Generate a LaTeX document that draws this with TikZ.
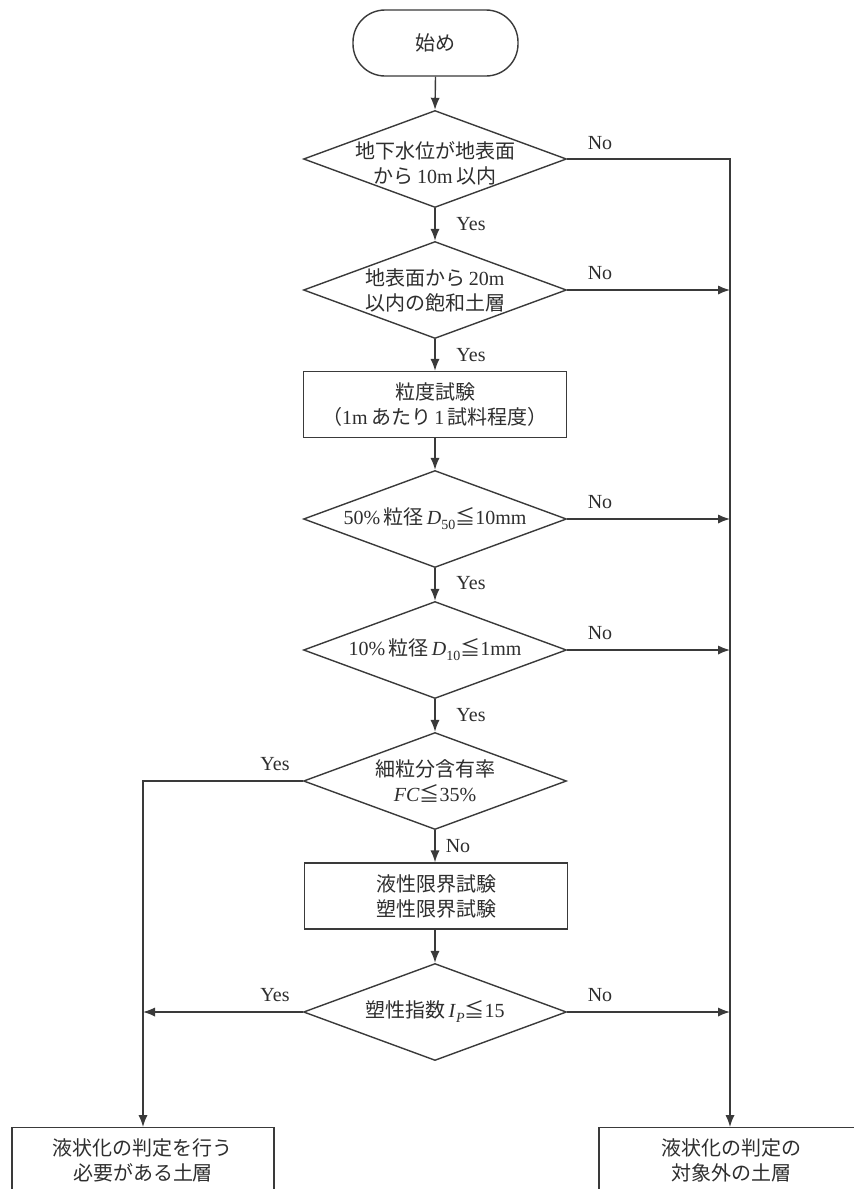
\documentclass[tikz,border=0pt]{standalone}
\usepackage{fontspec}
\setmainfont{Liberation Serif}
\newfontfamily\jpfont{Noto Sans CJK JP}
\newcommand{\jt}[1]{{\jpfont #1}}
\usetikzlibrary{shapes.geometric,arrows.meta}
\definecolor{ink}{HTML}{3A3A3A}
\definecolor{txt}{HTML}{2E2E2E}
\tikzset{
  line/.style={draw=ink, line width=0.7pt},
  arr/.style={line, -{Latex[length=6pt,width=4.6pt]}},
  lbl/.style={font=\fontsize{10}{12.5}\selectfont, text=txt, align=center, inner sep=0pt},
  dia/.style={diamond, draw=ink, line width=0.7pt, minimum width=131.5pt, minimum height=48.5pt, inner sep=0pt},
  procbox/.style={rectangle, draw=ink, line width=0.7pt, minimum width=131.5pt, minimum height=33pt, inner sep=0pt, font=\fontsize{10}{12.5}\selectfont, text=txt, align=center},
  startbox/.style={rectangle, rounded corners=16pt, draw=ink, line width=0.7pt, minimum width=82.5pt, minimum height=33pt, inner sep=0pt, font=\fontsize{10}{12.5}\selectfont, text=txt},
  endbox/.style={rectangle, draw=ink, line width=0.7pt, minimum width=131pt, minimum height=45pt, inner sep=0pt, anchor=north},
}
\begin{document}
\begin{tikzpicture}[x=0.5pt, y=-0.5pt]
\useasboundingbox (0,0) rectangle (854,1189);
\fill[white] (0,0) rectangle (854,1189);
\clip (0,0) rectangle (854,1189);

% nodes
\node[startbox] (s) at (435.5,43) {\jt{始め}};
\node[dia, label={[lbl,yshift=-2pt]center:{\jt{地下水位が地表面}\\\jt{から}\,10m\,\jt{以内}}}] (d1) at (435,159) {};
\node[dia, label={[lbl]center:{\jt{地表面から}\,20m\\\jt{以内の飽和土層}}}] (d2) at (435,290) {};
\node[procbox] (b1) at (435,404.5) {\jt{粒度試験}\\\jt{（}1m\,\jt{あたり}\,1\,\jt{試料程度）}};
\node[dia, label={[lbl]center:{50\%\,\jt{粒径}\,\textit{D}\raisebox{-0.55ex}{\scriptsize 50}\jt{≦}10mm}}] (d3) at (435,519) {};
\node[dia, label={[lbl]center:{10\%\,\jt{粒径}\,\textit{D}\raisebox{-0.55ex}{\scriptsize 10}\jt{≦}1mm}}] (d4) at (435,650) {};
\node[dia, label={[lbl]center:{\jt{細粒分含有率}\\\textit{FC}\jt{≦}35\%}}] (d5) at (435,781) {};
\node[procbox] (b2) at (436,896) {\jt{液性限界試験}\\\jt{塑性限界試験}};
\node[dia, label={[lbl]center:{\jt{塑性指数}\,\textit{I}\raisebox{-0.55ex}{\scriptsize\textit{P}}\jt{≦}15}}] (d6) at (435,1012) {};
\node[endbox] (lb) at (143,1127) {};
\node[lbl] (lbt) at (143,1160) {\jt{液状化の判定を行う}\\\jt{必要がある土層}};
\node[endbox] (rb) at (730,1127) {};
\node[lbl] (rbt) at (731,1160) {\jt{液状化の判定の}\\\jt{対象外の土層}};

% vertical flow
\draw[arr] (s.south) -- (d1.north);
\draw[arr] (d1.south) -- (d2.north);
\draw[arr] (d2.south) -- (b1.north);
\draw[arr] (b1.south) -- (d3.north);
\draw[arr] (d3.south) -- (d4.north);
\draw[arr] (d4.south) -- (d5.north);
\draw[arr] (d5.south) -- (d5.south |- b2.north);
\draw[arr] (b2.south) -- (b2.south -| d6.north) -- (d6.north);

% right column (No)
\draw[arr] (d1.east) -| (rb.north);
\draw[arr] (d2.east) -- (d2.east -| rb.north);
\draw[arr] (d3.east) -- (d3.east -| rb.north);
\draw[arr] (d4.east) -- (d4.east -| rb.north);
\draw[arr] (d6.east) -- (d6.east -| rb.north);

% left column (Yes)
\draw[arr] (d5.west) -| (lb.north);
\draw[arr] (d6.west) -- (d6.west -| lb.north);

% labels
\node[lbl] (n1) at (600,143) {No};
\node[lbl] (n2) at (600,273) {No};
\node[lbl] (n3) at (600,502) {No};
\node[lbl] (n4) at (600,633) {No};
\node[lbl] (n5) at (458,846) {No};
\node[lbl] (n6) at (600,995) {No};
\node[lbl] (y1) at (471,224) {Yes};
\node[lbl] (y2) at (471,355) {Yes};
\node[lbl] (y3) at (471,583) {Yes};
\node[lbl] (y4) at (471,715) {Yes};
\node[lbl] (y5) at (275,764) {Yes};
\node[lbl] (y6) at (275,995) {Yes};
\end{tikzpicture}
\end{document}
